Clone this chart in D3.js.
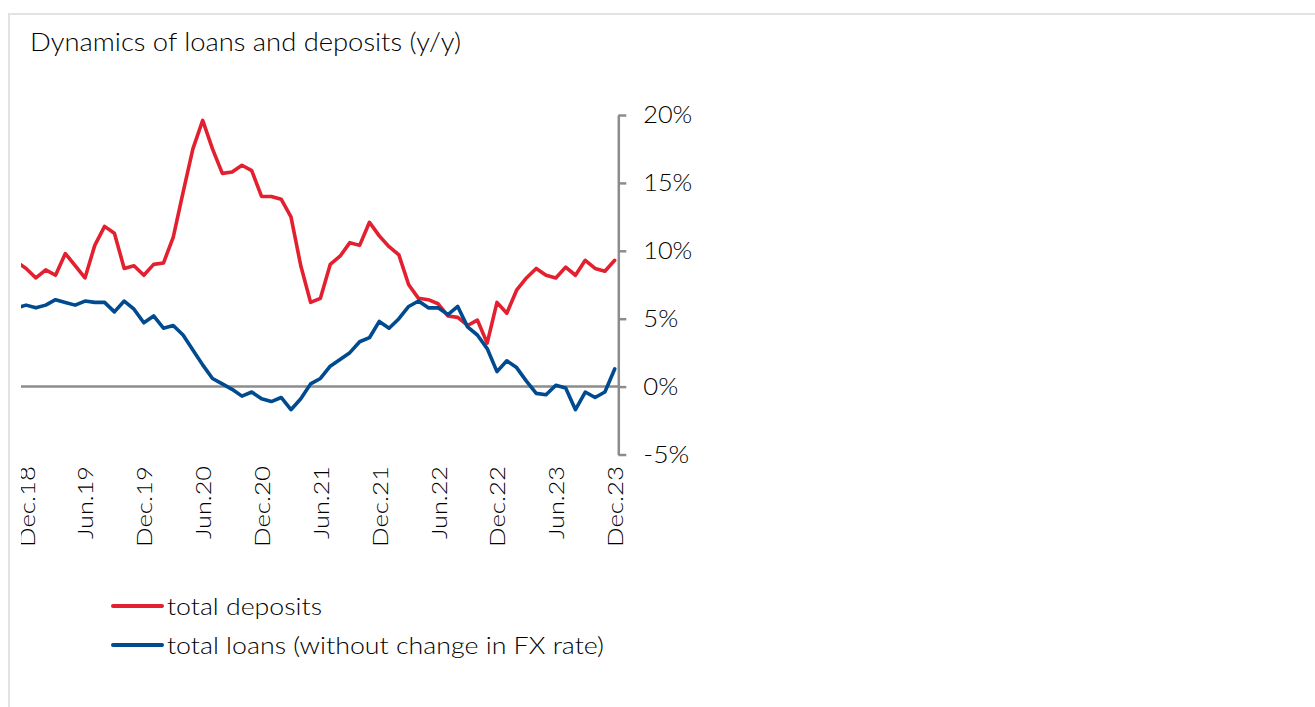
<!DOCTYPE html>
<html>
<head>
<meta charset="utf-8">
<script src="https://cdn.jsdelivr.net/npm/d3@7"></script>
<style>
  html, body { margin: 0; padding: 0; background: #fff; }
  svg { display: block; }
  text { font-family: Lato, "Noto Sans", sans-serif; font-weight: 300; fill: #000; }
</style>
</head>
<body>
<svg id="chart" width="1315" height="707"></svg>
<script>
// Monthly categories, Nov.18 .. Dec.23
const months = [
  "Nov.18","Dec.18",
  "Jan.19","Feb.19","Mar.19","Apr.19","May.19","Jun.19","Jul.19","Aug.19","Sep.19","Oct.19","Nov.19","Dec.19",
  "Jan.20","Feb.20","Mar.20","Apr.20","May.20","Jun.20","Jul.20","Aug.20","Sep.20","Oct.20","Nov.20","Dec.20",
  "Jan.21","Feb.21","Mar.21","Apr.21","May.21","Jun.21","Jul.21","Aug.21","Sep.21","Oct.21","Nov.21","Dec.21",
  "Jan.22","Feb.22","Mar.22","Apr.22","May.22","Jun.22","Jul.22","Aug.22","Sep.22","Oct.22","Nov.22","Dec.22",
  "Jan.23","Feb.23","Mar.23","Apr.23","May.23","Jun.23","Jul.23","Aug.23","Sep.23","Oct.23","Nov.23","Dec.23"
];

// y/y growth, %
const totalDeposits = [
  9.2, 8.7,
  8.0, 8.6, 8.2, 9.8, 8.9, 8.0, 10.4, 11.8, 11.3, 8.7, 8.9, 8.2,
  9.0, 9.1, 11.0, 14.3, 17.5, 19.6, 17.5, 15.7, 15.8, 16.3, 15.9, 14.0,
  14.0, 13.8, 12.5, 8.9, 6.2, 6.5, 9.0, 9.6, 10.6, 10.4, 12.1, 11.1,
  10.3, 9.7, 7.5, 6.5, 6.4, 6.1, 5.2, 5.1, 4.5, 4.9, 3.2, 6.2,
  5.4, 7.1, 8.0, 8.7, 8.2, 8.0, 8.8, 8.2, 9.3, 8.7, 8.5, 9.3
];
const totalLoans = [
  5.8, 6.0,
  5.8, 6.0, 6.4, 6.2, 6.0, 6.3, 6.2, 6.2, 5.5, 6.3, 5.7, 4.7,
  5.2, 4.3, 4.5, 3.8, 2.7, 1.6, 0.6, 0.2, -0.2, -0.7, -0.4, -0.9,
  -1.1, -0.8, -1.7, -0.9, 0.2, 0.6, 1.5, 2.0, 2.5, 3.3, 3.6, 4.8,
  4.3, 5.0, 5.9, 6.3, 5.8, 5.8, 5.3, 5.9, 4.4, 3.8, 2.8, 1.1,
  1.9, 1.4, 0.4, -0.5, -0.6, 0.1, -0.1, -1.7, -0.4, -0.8, -0.4, 1.3
];

const xTickLabels = ["Dec.18","Jun.19","Dec.19","Jun.20","Dec.20","Jun.21","Dec.21","Jun.22","Dec.22","Jun.23","Dec.23"];
const yTickValues = [-5, 0, 5, 10, 15, 20];

const seriesNames = ["total deposits", "total loans (without change in FX rate)"];
const seriesColors = ["#e3202f", "#004a8f"];
const titleText = "Dynamics of loans and deposits (y/y)";

const svg = d3.select("#chart");

// frame
svg.append("path")
  .attr("d", "M9,707 V14 H1315")
  .attr("fill", "none")
  .attr("stroke", "#e2e2e2")
  .attr("stroke-width", 2);

// title
svg.append("text")
  .attr("x", 30).attr("y", 51)
  .attr("font-size", 26)
  .attr("textLength", 431).attr("lengthAdjust", "spacingAndGlyphs")
  .text(titleText);

// chart area, trimmed on the left
svg.append("clipPath").attr("id", "trim")
  .append("rect").attr("x", 21).attr("y", 0).attr("width", 1300).attr("height", 707);

const g = svg.append("g").attr("clip-path", "url(#trim)");

const x = d3.scalePoint().domain(months).range([16.3, 614.7]);
const y = d3.scaleLinear().domain([-5, 20]).range([454.5, 115]);
const axisX = 618.3;

// zero line
g.append("line")
  .attr("x1", 0).attr("x2", axisX)
  .attr("y1", y(0)).attr("y2", y(0))
  .attr("stroke", "#8c8c8c").attr("stroke-width", 2.5);

// value axis on the right
const yAxis = g.append("g")
  .attr("transform", `translate(${axisX},0)`)
  .call(d3.axisRight(y).tickValues(yTickValues).tickSize(8).tickSizeOuter(0).tickPadding(17)
    .tickFormat(d => d + "%"));
yAxis.select(".domain").attr("stroke", "#8c8c8c").attr("stroke-width", 2.5);
yAxis.selectAll(".tick line").attr("stroke", "#8c8c8c").attr("stroke-width", 2.5);
yAxis.selectAll(".tick text")
  .attr("font-size", 23)
  .attr("font-family", null)
  .attr("fill", "#000")
  .attr("dy", "0.34em")
  .attr("textLength", d => (d === 20 || d === 15 || d === 10) ? 49 : (d === -5 ? 46 : 35))
  .attr("lengthAdjust", "spacingAndGlyphs");

// category labels
g.selectAll("text.xlab")
  .data(xTickLabels)
  .join("text")
  .attr("class", "xlab")
  .attr("transform", d => `translate(${x(d)},466) rotate(-90)`)
  .attr("text-anchor", "end")
  .attr("dominant-baseline", "central")
  .attr("font-size", 21)
  .attr("textLength", d => d.startsWith("Dec") ? 81 : 73)
  .attr("lengthAdjust", "spacingAndGlyphs")
  .text(d => d);

// lines
const line = d3.line()
  .x((d, i) => x(months[i]))
  .y(d => y(d));

[totalDeposits, totalLoans].forEach((vals, s) => {
  g.append("path")
    .datum(vals)
    .attr("d", line)
    .attr("fill", "none")
    .attr("stroke", seriesColors[s])
    .attr("stroke-width", 3.6)
    .attr("stroke-linejoin", "round")
    .attr("stroke-linecap", "round");
});

// legend
const legendTextLen = [155, 437];
const legend = svg.append("g");
seriesNames.forEach((name, i) => {
  const ly = 606 + i * 39;
  legend.append("line")
    .attr("x1", 113).attr("x2", 162)
    .attr("y1", ly).attr("y2", ly)
    .attr("stroke", seriesColors[i]).attr("stroke-width", 4)
    .attr("stroke-linecap", "round");
  legend.append("text")
    .attr("x", 167).attr("y", ly)
    .attr("dominant-baseline", "central")
    .attr("font-size", 23)
    .attr("textLength", legendTextLen[i]).attr("lengthAdjust", "spacingAndGlyphs")
    .text(name);
});
</script>
</body>
</html>
